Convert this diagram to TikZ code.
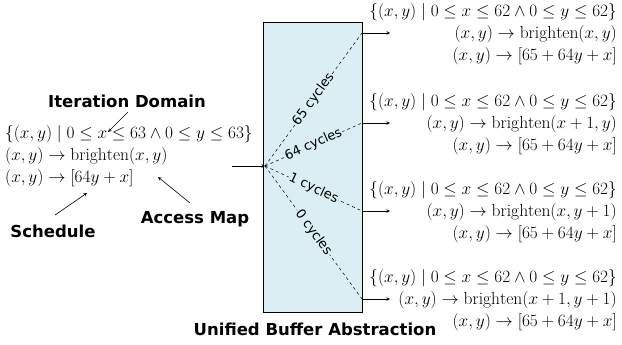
\documentclass[tikz,border=0pt]{standalone}
\usepackage{amsmath}
\usepackage{amssymb}
\usepackage{fontspec}
\newfontfamily\labelfont{DejaVu Sans}
\usetikzlibrary{arrows,calc,positioning}
\definecolor{bufferblau}{RGB}{218,238,243}
\tikzset{
  beschriftung/.style={font=\labelfont\bfseries\fontsize{16.5}{18}\selectfont, inner sep=0pt},
  formel/.style={font=\fontsize{17.5}{22}\selectfont, inner sep=0pt},
  zyklen/.style={font=\labelfont\fontsize{13}{15}\selectfont, sloped, fill=bufferblau, inner sep=1pt},
  pfeil/.style={->, >=stealth, line width=0.6pt},
  gestrichelt/.style={dashed, line width=0.5pt},
}
\begin{document}
\begin{tikzpicture}[x=1pt,y=-1pt]
\useasboundingbox (0,0) rectangle (622,345);
%Puffer in der Mitte
\node[draw, fill=bufferblau, line width=0.6pt, minimum width=99pt, minimum height=290pt, anchor=north west, inner sep=0pt] (ub) at (263,22) {};
\node[beschriftung] (ubtext) at (315,329) {Unified Buffer Abstraction};
%linke Seite
\node[formel, align=left, anchor=west] (eingabe) at (5,156) {$\{(x,y)\mid 0\leq x\leq 63\wedge 0\leq y\leq 63\}$\\
  $(x,y)\rightarrow \mathrm{brighten}(x,y)$\\
  $(x,y)\rightarrow [64y+x]$};
\node[beschriftung] (iter) at (127,101) {Iteration Domain};
\node[beschriftung] (sched) at (53,231) {Schedule};
\node[beschriftung] (zugriff) at (195,219) {Access Map};
\coordinate (iterstart) at (128,112);
\coordinate (iterziel) at (108,132);
\coordinate (schedstart) at (55,215);
\coordinate (schedziel) at (87,193);
\coordinate (zugriffstart) at (190,203);
\coordinate (zugriffziel) at (158,177);
\draw[pfeil] (iterstart) -- (iterziel);
\draw[pfeil] (schedstart) -- (schedziel);
\draw[pfeil] (zugriffstart) -- (zugriffziel);
\coordinate (fokus) at (265,166);
\coordinate (eingang) at (232,166);
\draw[pfeil] (eingang) -- (fokus);
%rechte Seite: vier Ausgaenge
\foreach \yy/\zyk/\arg [count=\i] in {33/65/{x,y},123/64/{x+1,y},211/1/{x,y+1},299/0/{x+1,y+1}}{
  \coordinate (aus\i) at (362,\yy);
  \coordinate (ende\i) at (390,\yy);
  \draw[gestrichelt] (fokus) -- node[zyklen] {\zyk\ cycles} (aus\i);
  \draw[pfeil] (aus\i) -- (ende\i);
  \node[formel, align=right, anchor=east] (block\i) at (617,\yy+1) {$\{(x,y)\mid 0\leq x\leq 62\wedge 0\leq y\leq 62\}$\\
    $(x,y)\rightarrow \mathrm{brighten}(\arg)$\\
    $(x,y)\rightarrow [65+64y+x]$};
}
\end{tikzpicture}
\end{document}
